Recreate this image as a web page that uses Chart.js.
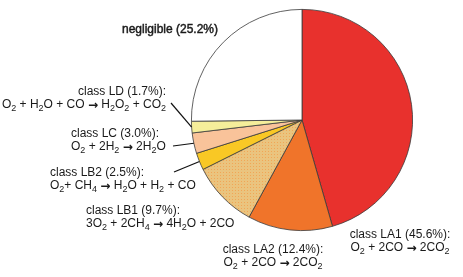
<!DOCTYPE html>
<html lang="en">
<head>
  <meta charset="UTF-8" />
  <title>Reaction classes pie</title>
  <script src="https://cdn.jsdelivr.net/npm/chart.js"></script>
  <style>
    html, body { margin: 0; padding: 0; background: #fff; }
    #wrap { width: 463px; height: 277px; }
  </style>
</head>
<body>
  <div id="wrap"><canvas id="pieChart" width="463" height="277"></canvas></div>

  <script>
    // data (clockwise from 12 o'clock)
    const classes = ['LA1', 'LA2', 'LB1', 'LB2', 'LC', 'LD', 'negligible'];
    const shares = [45.6, 12.4, 9.7, 2.5, 3.0, 1.7, 25.2];
    const reactions = [
      'O_2 + 2CO → 2CO_2',
      'O_2 + 2CO → 2CO_2',
      '3O_2 + 2CH_4 → 4H_2O + 2CO',
      'O_2+ CH_4 → H_2O + H_2 + CO',
      'O_2 + 2H_2 → 2H_2O',
      'O_2 + H_2O + CO → H_2O_2 + CO_2',
      ''
    ];
    const sliceColors = ['#E8312D', '#F0742A', 'dots', '#F9C825', '#F9C39A', '#F5EE9A', '#FFFFFF'];

    // label placement: anchor x, first baseline y, alignment, optional leader start
    const labelPos = [
      { x: 400, y: 238, align: 'center' },
      { x: 273, y: 253, align: 'center' },
      { x: 86, y: 214, align: 'left' },
      { x: 50, y: 176, align: 'left', lead: [174, 172] },
      { x: 71, y: 137, align: 'left', lead: [173, 146] },
      { x: 166, y: 95, align: 'right', lead: [171, 103] },
      { x: 170, y: 33, align: 'center', heavy: true }
    ];

    // tan with little orange dots for LB1
    function dotPattern() {
      const c = document.createElement('canvas');
      c.width = 3; c.height = 3;
      const g = c.getContext('2d');
      g.fillStyle = '#EAC47F';
      g.fillRect(0, 0, 3, 3);
      g.fillStyle = '#F2A655';
      g.fillRect(1, 1, 1, 1);
      return g.createPattern(c, 'repeat');
    }

    const FONT = '12px "Liberation Sans", Arial, sans-serif';
    const SUB = '9px "Liberation Sans", Arial, sans-serif';
    const ARROW = 'bold 12px "DejaVu Sans", sans-serif';

    // split "O_2 + ..." into runs: normal text, subscripts, arrows
    function parts(str) {
      const out = [];
      for (let i = 0; i < str.length; i++) {
        if (str[i] === '_') { out.push({ t: str[i + 1], k: 'sub' }); i++; }
        else if (str[i] === '→') out.push({ t: '→', k: 'arrow' });
        else {
          const last = out[out.length - 1];
          if (last && last.k === 'txt') last.t += str[i];
          else out.push({ t: str[i], k: 'txt' });
        }
      }
      return out;
    }

    function fontFor(k) {
      return k === 'sub' ? SUB : k === 'arrow' ? ARROW : FONT;
    }

    function drawRich(ctx, str, x, y, align, heavy) {
      const segs = parts(str);
      let w = 0;
      segs.forEach(s => { ctx.font = fontFor(s.k); w += ctx.measureText(s.t).width; });
      let cx = align === 'left' ? x : align === 'right' ? x - w : x - w / 2;
      ctx.textAlign = 'left';
      ctx.textBaseline = 'alphabetic';
      segs.forEach(s => {
        ctx.font = fontFor(s.k);
        const ty = s.k === 'sub' ? y + 3 : s.k === 'arrow' ? y + 0.5 : y;
        ctx.fillText(s.t, cx, ty);
        if (heavy) {
          // a touch heavier than regular, lighter than bold
          ctx.lineWidth = 0.45;
          ctx.strokeStyle = ctx.fillStyle;
          ctx.strokeText(s.t, cx, ty);
        }
        cx += ctx.measureText(s.t).width;
      });
    }

    const labelPlugin = {
      id: 'classLabels',
      afterDatasetsDraw(chart) {
        const ctx = chart.ctx;
        const arcs = chart.getDatasetMeta(0).data;
        ctx.save();
        ctx.fillStyle = '#1a1a1a';
        classes.forEach((c, i) => {
          const p = labelPos[i];
          const title = c === 'negligible'
            ? 'negligible (' + shares[i].toFixed(1) + '%)'
            : 'class ' + c + ' (' + shares[i].toFixed(1) + '%):';
          drawRich(ctx, title, p.x, p.y, p.align, p.heavy);
          if (reactions[i]) drawRich(ctx, reactions[i], p.x, p.y + 13, p.align, false);

          if (p.lead) {
            const a = arcs[i].getProps(['x', 'y', 'startAngle', 'endAngle', 'outerRadius'], true);
            const mid = (a.startAngle + a.endAngle) / 2;
            ctx.strokeStyle = '#111';
            ctx.lineWidth = 1.2;
            ctx.beginPath();
            ctx.moveTo(p.lead[0], p.lead[1]);
            ctx.lineTo(a.x + Math.cos(mid) * a.outerRadius, a.y + Math.sin(mid) * a.outerRadius);
            ctx.stroke();
          }
        });
        ctx.restore();
      }
    };

    const pieCtx = document.getElementById('pieChart').getContext('2d');
    new Chart(pieCtx, {
      type: 'pie',
      data: {
        labels: classes,
        datasets: [{
          data: shares,
          backgroundColor: sliceColors.map(c => c === 'dots' ? dotPattern() : c),
          borderColor: '#3a3a3a',
          borderWidth: 0.8
        }]
      },
      options: {
        responsive: false,
        animation: false,
        layout: { padding: { left: 191, right: 50, top: 9, bottom: 46 } },
        plugins: {
          legend: { display: false },
          tooltip: { enabled: false }
        }
      },
      plugins: [labelPlugin]
    });
  </script>
</body>
</html>
